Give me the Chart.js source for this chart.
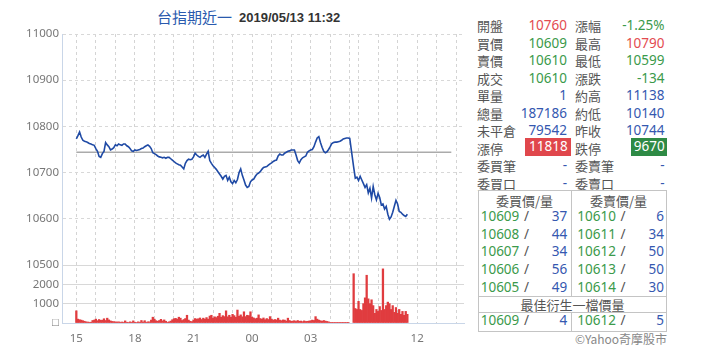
<!DOCTYPE html>
<html>
<head>
<meta charset="utf-8">
<script src="https://cdn.jsdelivr.net/npm/chart.js@4.4.1/dist/chart.umd.min.js"></script>
<style>
  body { margin: 0; width: 720px; height: 360px; background: #fff; position: relative; overflow: hidden;
         font-family: "Noto Sans", "Noto Sans CJK TC", sans-serif; }
  #chartBox { position: absolute; left: 0; top: 0; width: 472px; height: 360px; }
  #title { position: absolute; top: 7px; height: 20px; line-height: 20px; white-space: nowrap; }
  #title .name { position: absolute; left: 157px; font-family: "Noto Sans CJK TC", sans-serif; font-size: 15px; color: #2a5aae; }
  #title .time { position: absolute; left: 239px; font-family: "Liberation Sans", Arial, sans-serif; font-weight: bold; font-size: 13px; color: #333; top: 1px; }
  .cell { position: absolute; height: 17.5px; line-height: 17.5px; font-size: 13.5px; white-space: nowrap; }
  .lbl { color: #555; font-family: "Noto Sans CJK TC", sans-serif; font-size: 13px; }
  .r { color: #e34b50; }
  .g { color: #3b9a4b; }
  .b { color: #3558b0; }
  .s { color: #555; }
  .boxr { background: #e0474c; color: #fff; padding-right: 3px; }
  .boxg { background: #2e8a45; color: #fff; padding-right: 2px; }
  .line { position: absolute; background: #c4c4c4; }
  #copy { position: absolute; right: 53px; top: 330px; font-size: 12px; color: #888; font-family: "Noto Sans CJK TC", sans-serif; }
</style>
</head>
<body>
<div id="title"><span class="name">台指期近一</span><span class="time">2019/05/13 11:32</span></div>
<div id="chartBox"><canvas id="chartTx" width="472" height="360"></canvas></div>
<div id="panel"></div>
<div id="copy">©Yahoo奇摩股市</div>
<script>
// price, every 5 min from 15:00 to 05:00 (night session), one row per hour
const nightStart = '15:00';
const nightStep = 5;
const nightPrice = [
  10773, 10780, 10788, 10777, 10770, 10768, 10767, 10765, 10763, 10762, 10760, 10759,
  10752, 10746, 10735, 10733, 10741, 10746, 10765, 10760, 10756, 10749, 10751, 10754,
  10760, 10758, 10762, 10760, 10759, 10762, 10762, 10758, 10756, 10752, 10747, 10746,
  10749, 10748, 10749, 10750, 10752, 10753, 10756, 10758, 10760, 10757, 10752, 10743,
  10741, 10739, 10736, 10734, 10733, 10732, 10733, 10731, 10733, 10733, 10730, 10727,
  10724, 10721, 10719, 10717, 10716, 10712, 10708, 10720, 10726, 10729, 10728, 10729,
  10734, 10742, 10738, 10735, 10733, 10736, 10738, 10733, 10740, 10746, 10726, 10720,
  10715, 10711, 10707, 10702, 10697, 10692, 10686, 10692, 10694, 10683, 10690, 10680,
  10676, 10683, 10678, 10685, 10700, 10708, 10694, 10684, 10673, 10668, 10670, 10680,
  10684, 10686, 10692, 10697, 10699, 10702, 10707, 10711, 10712, 10713, 10716, 10719,
  10721, 10724, 10726, 10727, 10736, 10740, 10738, 10738, 10742, 10744, 10746, 10747,
  10749, 10749, 10749, 10738, 10726, 10721, 10728, 10732, 10734, 10736, 10744, 10747,
  10749, 10750, 10756, 10766, 10775, 10778, 10765, 10755, 10746, 10743, 10745, 10750,
  10756, 10763, 10765, 10766, 10766, 10767, 10768, 10770, 10773, 10774, 10775, 10775,
  10774
];
// price, every 5 min from 08:45 (day session)
const dayStart = '08:45';
const dayStep = 5;
const dayPrice = [
  10712, 10688, 10690, 10683, 10692, 10684, 10676, 10668, 10674, 10656, 10666, 10645,
  10670, 10652, 10641, 10655, 10646, 10630, 10632, 10621, 10627, 10610, 10599, 10604,
  10614, 10627, 10640, 10632, 10616, 10614, 10610, 10607, 10605, 10610
];
// volume, every 5 min
const volStep = 5;
const nightVol = [
  630, 200, 170, 150, 120, 90, 60, 50, 40, 40, 130, 150,
  200, 120, 180, 140, 150, 220, 130, 250, 160, 110, 80, 70,
  60, 50, 60, 40, 50, 40, 110, 40, 30, 60, 40, 110,
  40, 30, 60, 40, 130, 50, 120, 40, 60, 60, 150, 300,
  200, 120, 90, 130, 190, 110, 160, 90, 40, 60, 100, 170,
  220, 240, 200, 300, 250, 130, 180, 230, 400, 150, 90, 70,
  160, 230, 200, 220, 260, 180, 250, 200, 280, 200, 360, 400,
  250, 320, 280, 350, 500, 300, 380, 330, 630, 320, 400, 300,
  450, 380, 300, 670, 350, 420, 320, 580, 330, 400, 380, 580,
  300, 260, 220, 250, 420, 230, 200, 260, 170, 230, 180, 330,
  200, 150, 180, 160, 250, 150, 120, 160, 150, 100, 250, 130,
  90, 100, 120, 80, 130, 90, 100, 70, 110, 80, 90, 100,
  120, 150, 130, 330, 200, 150, 120, 90, 130, 100, 80, 60,
  30, 20, 20, 30, 20, 20, 30, 20, 20, 30, 20, 10
];
const dayVol = [
  2550, 750, 700, 1120, 700, 650, 1000, 1300, 2470, 1250, 1000, 1200,
  900, 500, 700, 600, 850, 650, 2800, 700, 900, 1080, 1000, 700,
  900, 550, 800, 500, 700, 450, 600, 400, 600, 450
];
const prevClose = 10744;
const closeSpan = ['15:00', '13:45'];

const tickTimes = ['15:00','16:00','17:00','18:00','19:00','20:00','21:00','22:00','23:00','00:00',
  '01:00','02:00','03:00','04:00','05:00','09:00','10:00','11:00','12:00','13:00','14:00'];
const tickLabels = ['15','','','18','','','21','','','00','','','03','','','','','','12','',''];
const volTickValues = [0, 1000, 2000, 3000];
const volTickLabels = ['□', '1000', '2000', ''];

const quoteRows = [
  ['開盤', '10760', 'r', '漲幅', '-1.25%', 'g'],
  ['買價', '10609', 'g', '最高', '10790', 'r'],
  ['賣價', '10610', 'g', '最低', '10599', 'g'],
  ['成交', '10610', 'g', '漲跌', '-134', 'g'],
  ['單量', '1', 'b', '約高', '11138', 'b'],
  ['總量', '187186', 'b', '約低', '10140', 'b'],
  ['未平倉', '79542', 'b', '昨收', '10744', 'b'],
  ['漲停', '11818', 'boxr', '跌停', '9670', 'boxg'],
  ['委買筆', '-', 'b', '委賣筆', '-', 'b'],
  ['委買口', '-', 'b', '委賣口', '-', 'b']
];
const bids = [['10609', '37'], ['10608', '44'], ['10607', '34'], ['10606', '56'], ['10605', '49']];
const asks = [['10610', '6'], ['10611', '34'], ['10612', '50'], ['10613', '50'], ['10614', '30']];
const bestBid = ['10609', '4'];
const bestAsk = ['10612', '5'];

// night session counted from 15:00, day session placed right after it
const DAY_OFFSET = 852;
function toX(t) {
  const [h, m] = t.split(':').map(Number);
  const min = h * 60 + m;
  if (h >= 15 || h < 6) return (min - 900 + 1440) % 1440;
  return DAY_OFFSET + (min - 525);
}

const pricePts = nightPrice.map((v, i) => ({ x: toX(nightStart) + i * nightStep, y: v }))
  .concat(dayPrice.map((v, i) => ({ x: toX(dayStart) + i * dayStep, y: v })));
const volPts = nightVol.map((v, i) => ({ x: toX(nightStart) + i * volStep, y: v }))
  .concat(dayVol.map((v, i) => ({ x: toX(dayStart) + i * volStep, y: v })));

// right panel
const panel = document.getElementById('panel');
function put(text, cls, style) {
  const d = document.createElement('div');
  d.className = 'cell ' + cls;
  d.textContent = text;
  Object.assign(d.style, style);
  panel.appendChild(d);
  return d;
}
quoteRows.forEach((row, i) => {
  const top = (17.25 + 17.5 * i) + 'px';
  put(row[0], 'lbl', { left: '477px', top });
  const v1 = put(row[1], row[2], { right: '153px', top });
  put(row[3], 'lbl', { left: '575px', top });
  const v2 = put(row[4], row[5], { right: '55.5px', top });
  if (row[2] === 'boxr') Object.assign(v1.style, { left: '525px', right: 'auto', width: '42.7px', textAlign: 'right', top: '138.3px', height: '17.7px' });
  if (row[5] === 'boxg') Object.assign(v2.style, { left: '630.7px', right: 'auto', width: '34px', textAlign: 'right', top: '138.3px', height: '17.7px' });
});

function line(l, t, w, h) {
  const d = document.createElement('div');
  d.className = 'line';
  Object.assign(d.style, { left: l + 'px', top: t + 'px', width: w + 'px', height: h + 'px' });
  panel.appendChild(d);
}
line(478, 190, 189, 1);
line(478, 331, 189, 1);
line(478, 190, 1, 142);
line(666, 190, 1, 142);
line(571, 190, 1, 107);
line(571, 313, 1, 18);
line(478, 296, 189, 1);
line(478, 312, 189, 1);

put('委買價/量', 'lbl', { left: '478px', width: '93px', textAlign: 'center', top: '192px' });
put('委賣價/量', 'lbl', { left: '571px', width: '95px', textAlign: 'center', top: '192px' });
function quoteLine(pair, top, left) {
  put(pair[0], 'g', { left: (left + 2.7) + 'px', top });
  put('/', 's', { left: (left + 46) + 'px', top });
  put(pair[1], 'b', { right: (720 - left - 89.3) + 'px', top });
}
bids.forEach((p, i) => quoteLine(p, (208.25 + 17.6 * i) + 'px', 478));
asks.forEach((p, i) => quoteLine(p, (208.25 + 17.6 * i) + 'px', 574.6));
put('最佳衍生一檔價量', 'lbl', { left: '478px', width: '189px', textAlign: 'center', top: '296.3px' });
quoteLine(bestBid, '312.3px', 478);
quoteLine(bestAsk, '312.3px', 574.6);

// chart
const tickFont = { family: '"Noto Sans", sans-serif', size: 11.5 };
const axisColor = '#c9d6e8';
new Chart(document.getElementById('chartTx'), {
  type: 'bar',
  data: {
    datasets: [
      {
        type: 'line',
        data: pricePts,
        borderColor: '#1f4aa5',
        borderWidth: 1.6,
        pointRadius: 0,
        tension: 0,
        yAxisID: 'y',
        order: 0
      },
      {
        type: 'line',
        data: closeSpan.map(t => ({ x: toX(t), y: prevClose })),
        borderColor: '#ababab',
        borderWidth: 1.5,
        pointRadius: 0,
        yAxisID: 'y',
        order: 1
      },
      {
        type: 'bar',
        data: volPts,
        backgroundColor: '#e03c3f',
        barPercentage: 1,
        categoryPercentage: 1,
        yAxisID: 'yv',
        order: 2
      }
    ]
  },
  options: {
    responsive: false,
    animation: false,
    layout: { padding: { top: 34, right: 8, left: 0, bottom: 0 } },
    plugins: { legend: { display: false }, tooltip: { enabled: false } },
    scales: {
      x: {
        type: 'linear',
        min: -44,
        max: 1191,
        offset: false,
        afterBuildTicks: s => { s.ticks = tickTimes.map(t => ({ value: toX(t) })); },
        afterFit: s => { s.height = 37; },
        ticks: {
          autoSkip: false, maxRotation: 0, padding: 9, color: '#777', font: tickFont,
          callback: (v, i) => tickLabels[i]
        },
        grid: { color: '#d4d4d4', drawTicks: false, offset: false },
        border: { color: axisColor, dash: [3, 3] }
      },
      yv: {
        stack: 'main',
        stackWeight: 58,
        position: 'left',
        min: 0,
        max: 3000,
        afterFit: s => { s.width = 62; },
        afterBuildTicks: s => { s.ticks = volTickValues.map(v => ({ value: v })); },
        ticks: { autoSkip: false, padding: 3, color: '#777', font: tickFont, callback: (v, i) => volTickLabels[i] },
        grid: { color: '#d8d8d8', drawTicks: false },
        border: { color: axisColor }
      },
      y: {
        stack: 'main',
        stackWeight: 231,
        position: 'left',
        min: 10500,
        max: 11000,
        afterFit: s => { s.width = 62; },
        ticks: { stepSize: 100, padding: 3, color: '#777', font: tickFont, callback: v => String(v) },
        grid: { color: '#d8d8d8', drawTicks: false },
        border: { color: axisColor, dash: [3, 3] }
      }
    }
  }
});
</script>
</body>
</html>
